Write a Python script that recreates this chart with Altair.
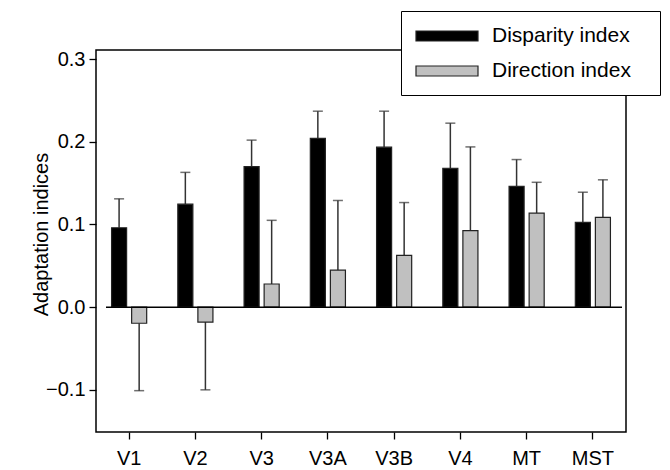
import altair as alt
import pandas as pd

areas = ["V1", "V2", "V3", "V3A", "V3B", "V4", "MT", "MST"]
series_names = ["Disparity index", "Direction index"]
disparity_mean = [0.096, 0.1245, 0.170, 0.204, 0.1935, 0.168, 0.146, 0.1025]
disparity_err = [0.035, 0.0385, 0.032, 0.033, 0.0435, 0.0545, 0.0325, 0.0365]
direction_mean = [-0.0195, -0.018, 0.028, 0.0447, 0.0625, 0.0925, 0.1137, 0.1085]
direction_err = [0.0815, 0.082, 0.077, 0.0843, 0.064, 0.1013, 0.0373, 0.0455]
y_ticks = [-0.1, 0.0, 0.1, 0.2, 0.3]

rows = []
for i, a in enumerate(areas):
    for s, m, e in ((series_names[0], disparity_mean[i], disparity_err[i]),
                    (series_names[1], direction_mean[i], direction_err[i])):
        end = m + e if m >= 0 else m - e
        rows.append({"area": a, "series": s, "mean": m, "end": end})
df = pd.DataFrame(rows)

FONT = "Liberation Sans"
BLANK = "\u2800"  # non-trimmed blank glyph, only to widen the legend frame

x_enc = alt.X("area:N", sort=areas,
              scale=alt.Scale(paddingInner=0.47, paddingOuter=0.235),
              axis=alt.Axis(title=None, labelAngle=0, domain=False, ticks=True,
                            tickSize=7, tickColor="black", tickWidth=1.3,
                            labelFontSize=20, labelFont=FONT, labelColor="black",
                            labelPadding=9))
xo_enc = alt.XOffset("series:N", sort=series_names,
                     scale=alt.Scale(paddingInner=0.25, paddingOuter=0))
y_scale = alt.Scale(domain=[-0.151, 0.311], nice=False, zero=False)

base = alt.Chart(df)

err_rule = base.mark_rule(color="#333333", strokeWidth=1.5).encode(
    x=x_enc, xOffset=xo_enc,
    y=alt.Y("mean:Q", scale=y_scale),
    y2="end:Q")

err_cap = base.mark_tick(color="#333333", thickness=1.5, size=10, orient="horizontal").encode(
    x=x_enc, xOffset=xo_enc,
    y=alt.Y("end:Q", scale=y_scale))

bars = base.mark_bar(stroke="#222222", strokeWidth=1.2).encode(
    x=x_enc, xOffset=xo_enc,
    y=alt.Y("mean:Q", scale=y_scale,
            axis=alt.Axis(title="Adaptation indices", values=y_ticks, format=".1f",
                          grid=False, domain=False, tickSize=7, tickColor="black",
                          tickWidth=1.3, labelFontSize=20, labelFont=FONT,
                          labelColor="black", labelPadding=4,
                          titleFontSize=20, titleFont=FONT, titleFontWeight="normal",
                          titleColor="black", titleX=-55, titleY=184,
                          titleBaseline="middle", titleAngle=270)),
    y2=alt.datum(0),
    color=alt.Color("series:N", sort=series_names,
                    scale=alt.Scale(domain=series_names, range=["#000000", "#c0c0c0"]),
                    legend=alt.Legend(title=None, orient="none", legendX=305, legendY=-39,
                                      fillColor="white", strokeColor="black",
                                      padding=14,
                                      symbolType="M-1,-0.5L5.2,-0.5L5.2,0.5L-1,0.5Z",
                                      symbolSize=400, symbolStrokeColor="#222222",
                                      symbolStrokeWidth=1.2,
                                      labelFontSize=21, labelFont=FONT, labelColor="black",
                                      labelOffset=55, rowPadding=14, labelLimit=400,
                                      labelExpr="datum.label + '" + BLANK + "'")))

zero_line = alt.Chart(pd.DataFrame({"z": [0.0]})).mark_rule(color="black", strokeWidth=1.5).encode(
    y=alt.Y("z:Q", scale=y_scale),
    x=alt.value(10), x2=alt.value(526))

chart = alt.layer(err_rule, err_cap, bars, zero_line).properties(
    width=530, height=382,
    autosize=alt.AutoSizeParams(type="none"),
    padding={"left": 96, "top": 50, "right": 44, "bottom": 38},
    background="white",
).configure_view(stroke="black", strokeWidth=1.5)

chart.save("out.html", embed_options={"renderer": "svg", "actions": False})
